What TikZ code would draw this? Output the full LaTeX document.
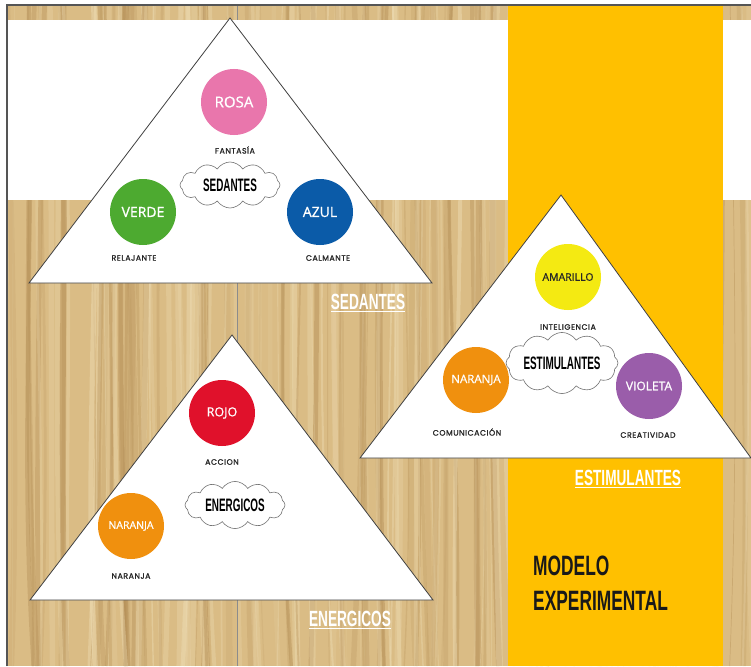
\documentclass[tikz,border=0pt]{standalone}
\usepackage{fontspec}
\setmainfont{Open Sans}
\newfontfamily\circfont[FakeBold=0.9]{Open Sans}
\newfontfamily\labfont[FakeBold=1.2,LetterSpace=7]{Poppins}
\newfontfamily\condfont[FakeStretch=0.62]{Liberation Sans}
\newfontfamily\cloudfont[FakeStretch=0.55]{Liberation Sans}
\usetikzlibrary{shapes.symbols}
\definecolor{wood}{HTML}{DABC85}
\definecolor{wooddark}{HTML}{B38D55}
\definecolor{woodlight}{HTML}{EEDDB5}
\definecolor{bandyellow}{HTML}{FFC000}
\definecolor{rosa}{HTML}{E976AC}
\definecolor{verde}{HTML}{4DAA30}
\definecolor{azul}{HTML}{0B5BA8}
\definecolor{amarillo}{HTML}{F4EA12}
\definecolor{naranja}{HTML}{F0900E}
\definecolor{violeta}{HTML}{9A5DAA}
\definecolor{rojo}{HTML}{E0112B}
\definecolor{frame}{HTML}{555555}
\tikzset{
  circ/.style={circle, minimum size=66pt, inner sep=0pt, text=white,
    font=\circfont\fontsize{#1}{#1}\selectfont},
  smalllab/.style={font=\labfont\fontsize{7.8}{8}\selectfont, text=black!85, inner sep=1pt},
  cloudnode/.style={cloud, cloud puffs=12, cloud puff arc=115, aspect=2.3,
    draw=black!55, fill=white, line width=0.6pt, minimum width=100pt,
    minimum height=46pt, inner sep=0pt,
    font=\cloudfont\bfseries\fontsize{18}{18}\selectfont},
  grouplab/.style={text=white, font=\condfont\bfseries\fontsize{22}{22}\selectfont},
  tri/.style={fill=white, draw=black!75, line width=0.8pt, line join=miter},
  titlelab/.style={text=black!90, align=left, anchor=west, inner sep=0pt,
    font=\condfont\bfseries\fontsize{28}{35}\selectfont}
}
\begin{document}
\begin{tikzpicture}[x=1pt,y=-1pt]
\useasboundingbox (0,0) rectangle (751,666);
\fill[white] (0,0) rectangle (751,666);
% wood background
\fill[wood] (7,5) rectangle (751,666);
\begin{scope}
\clip (7,5) rectangle (751,666);
\pgfmathsetseed{7}
\foreach \i in {1,...,170}{
  \pgfmathsetmacro{\xx}{rnd*751}
  \pgfmathsetmacro{\ww}{0.6+rnd*6}
  \pgfmathsetmacro{\op}{0.12+rnd*0.35}
  \pgfmathsetmacro{\xa}{\xx+(rnd-0.5)*24}
  \pgfmathsetmacro{\xb}{\xx+(rnd-0.5)*24}
  \pgfmathsetmacro{\xc}{\xx+(rnd-0.5)*12}
  \pgfmathtruncatemacro{\pick}{mod(\i,2)}
  \ifnum\pick=0
    \draw[line width=\ww pt, draw=wooddark, opacity=\op] (\xx,0) .. controls (\xa,230) and (\xb,440) .. (\xc,666);
  \else
    \draw[line width=\ww pt, draw=woodlight, opacity=\op] (\xx,0) .. controls (\xa,230) and (\xb,440) .. (\xc,666);
  \fi
}
\end{scope}
% board seam
\draw[black!45, line width=1pt] (237,5) -- (237,666);
% white band
\fill[white] (7,20) rectangle (508,200);
\fill[white] (723,20) rectangle (751,200);
% yellow band
\fill[bandyellow] (508,5) rectangle (723,666);
% frame lines
\draw[frame, line width=1.2pt] (7,666) -- (7,5) -- (751,5);

% ---------- SEDANTES triangle
\coordinate (s1) at (230,18);
\coordinate (s2) at (29,283);
\coordinate (s3) at (432,283);
\filldraw[tri] (s1) -- (s2) -- (s3) -- cycle;
\node[circ=15, fill=rosa] (rosa) at (234,102) {ROSA};
\node[smalllab] (fantasia) at (235,150) {FANTASÍA};
\node[circ=14, fill=verde] (verde) at (143,212) {VERDE};
\node[smalllab] (relajante) at (134,258) {RELAJANTE};
\node[circ=14, fill=azul] (azul) at (320,212) {AZUL};
\node[smalllab] (calmante) at (328,258) {CALMANTE};
\node[cloudnode] (cloudS) at (230,185) {SEDANTES};
\node[grouplab] (labS) at (368,303) {\underline{SEDANTES}};

% ---------- ESTIMULANTES triangle
\coordinate (e1) at (561,195);
\coordinate (e2) at (360,458);
\coordinate (e3) at (751,458);
\filldraw[tri] (e1) -- (e2) -- (e3) -- cycle;
\node[circ=10.5, fill=amarillo, text=black!85] (amarillo) at (568,277) {AMARILLO};
\node[smalllab] (inteligencia) at (568,327) {INTELIGENCIA};
\node[circ=11.5, fill=naranja] (naranjaE) at (476,380) {NARANJA};
\node[smalllab] (comunicacion) at (467,432) {COMUNICACIÓN};
\node[circ=12, fill=violeta] (violeta) at (649,386) {VIOLETA};
\node[smalllab] (creatividad) at (648,435) {CREATIVIDAD};
\node[cloudnode] (cloudE) at (562,363) {ESTIMULANTES};
\node[grouplab] (labE) at (628,479) {\underline{ESTIMULANTES}};

% ---------- ENERGICOS triangle
\coordinate (g1) at (232,335);
\coordinate (g2) at (30,600);
\coordinate (g3) at (433,600);
\filldraw[tri] (g1) -- (g2) -- (g3) -- cycle;
\node[circ=12.5, fill=rojo] (rojo) at (222,413) {ROJO};
\node[smalllab] (accion) at (222,462) {ACCION};
\node[circ=10.5, fill=naranja] (naranjaG) at (131,526) {NARANJA};
\node[smalllab] (naranjalab) at (131,576) {NARANJA};
\node[cloudnode] (cloudG) at (235,505) {ENERGICOS};
\node[grouplab] (labG) at (350,620) {\underline{ENERGICOS}};

% ---------- title
\node[titlelab] (modelo) at (533,583) {MODELO\\EXPERIMENTAL};
\end{tikzpicture}
\end{document}
